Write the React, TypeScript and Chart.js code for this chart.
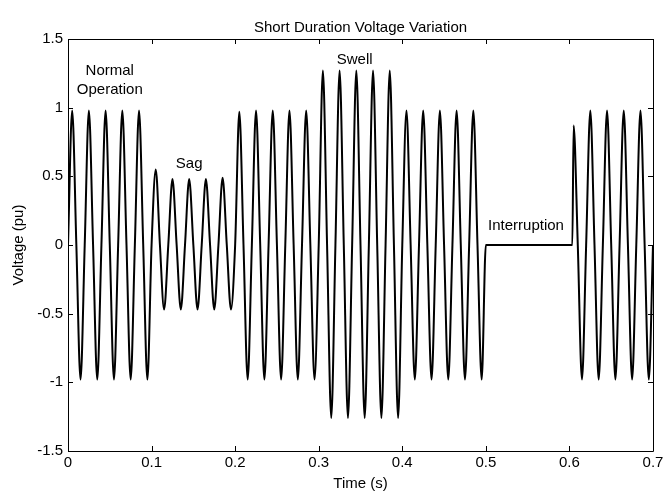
import React, { useEffect, useRef } from "react";
import { Chart, registerables } from "chart.js";

Chart.register(...registerables);

// Half-cycle peak values (pu), 50 Hz => 10 half cycles per 0.1 s
const segmentStarts = [0, 0.1, 0.2, 0.3, 0.4, 0.5, 0.6];
const normalPeaks = [0.98, -0.98, 0.98, -0.98, 0.98, -0.98, 0.98, -0.98, 0.98, -0.98];
const sagPeaks = [0.55, -0.47, 0.48, -0.47, 0.48, -0.47, 0.48, -0.47, 0.49, -0.47];
const recoveryPeaks = [0.97, -0.98, 0.98, -0.98, 0.98, -0.98, 0.98, -0.98, 0.98, -0.98];
const swellPeaks = [1.27, -1.26, 1.27, -1.26, 1.27, -1.26, 1.27, -1.26, 1.27, -1.26];
const postSwellPeaks = [0.98, -0.98, 0.98, -0.98, 0.98, -0.98, 0.98, -0.98, 0.98, -0.98];
const interruptionPeaks = [0, 0, 0, 0, 0, 0, 0, 0, 0, 0];
const restoredPeaks = [0.87, -0.98, 0.98, -0.98, 0.98, -0.98, 0.98, -0.98, 0.98, -0.98];
const halfCycle = 0.01;
const restoreOnset = 0.6035;
const endTime = 0.7;

const xTickValues = [0, 0.1, 0.2, 0.3, 0.4, 0.5, 0.6, 0.7];
const xTickLabels = ["0", "0.1", "0.2", "0.3", "0.4", "0.5", "0.6", "0.7"];
const yTickValues = [-1.5, -1, -0.5, 0, 0.5, 1, 1.5];
const yTickLabels = ["-1.5", "-1", "-0.5", "0", "0.5", "1", "1.5"];

const titleText = "Short Duration Voltage Variation";
const xTitle = "Time (s)";
const yTitle = "Voltage (pu)";
const annotations = [
  { text: "Normal", t: 0.05, v: 1.24 },
  { text: "Operation", t: 0.05, v: 1.1 },
  { text: "Sag", t: 0.145, v: 0.56 },
  { text: "Swell", t: 0.343, v: 1.32 },
  { text: "Interruption", t: 0.548, v: 0.11 },
];

const FONT = '"Liberation Sans", Arial, Helvetica, sans-serif';

function buildPoints() {
  const segs = [normalPeaks, sagPeaks, recoveryPeaks, swellPeaks, postSwellPeaks, interruptionPeaks, restoredPeaks];
  const pts: { x: number; y: number }[] = [];
  segs.forEach((peaks, s) => {
    peaks.forEach((p, i) => {
      const t0 = segmentStarts[s] + i * halfCycle;
      pts.push({ x: t0, y: 0 });
      pts.push({ x: t0 + halfCycle / 2, y: p });
    });
  });
  pts.push({ x: restoreOnset, y: 0 });
  pts.push({ x: endTime, y: 0 });
  pts.sort((a, b) => a.x - b.x);
  return pts;
}

const framePlugin = {
  id: "matlabFrame",
  afterDraw(chart: any) {
    const { ctx, chartArea } = chart;
    const xs = chart.scales.x;
    const ys = chart.scales.y;
    const { left, right, top, bottom } = chartArea;
    ctx.save();
    ctx.strokeStyle = "#000";
    ctx.lineWidth = 1;
    ctx.beginPath();
    ctx.rect(Math.round(left) + 0.5, Math.round(top) + 0.5, Math.round(right - left), Math.round(bottom - top));
    ctx.stroke();
    const tl = 5;
    ctx.beginPath();
    xTickValues.forEach((v) => {
      const px = Math.round(xs.getPixelForValue(v)) + 0.5;
      ctx.moveTo(px, bottom);
      ctx.lineTo(px, bottom - tl);
      ctx.moveTo(px, top);
      ctx.lineTo(px, top + tl);
    });
    yTickValues.forEach((v) => {
      const py = Math.round(ys.getPixelForValue(v)) + 0.5;
      ctx.moveTo(left, py);
      ctx.lineTo(left + tl, py);
      ctx.moveTo(right, py);
      ctx.lineTo(right - tl, py);
    });
    ctx.stroke();

    ctx.fillStyle = "#000";
    ctx.font = `15px ${FONT}`;
    ctx.textAlign = "center";
    ctx.textBaseline = "alphabetic";
    ctx.fillText(titleText, (left + right) / 2, 32);
    ctx.fillText(xTitle, (left + right) / 2, 488);
    annotations.forEach((a) => {
      ctx.fillText(a.text, xs.getPixelForValue(a.t), ys.getPixelForValue(a.v));
    });
    ctx.save();
    ctx.translate(23, (top + bottom) / 2);
    ctx.rotate(-Math.PI / 2);
    ctx.fillText(yTitle, 0, 0);
    ctx.restore();
    ctx.restore();
  },
};

export default function App() {
  const ref = useRef<HTMLCanvasElement | null>(null);
  useEffect(() => {
    if (!ref.current) return;
    const chart = new Chart(ref.current, {
      type: "line",
      data: {
        datasets: [
          {
            data: buildPoints(),
            borderColor: "#000",
            borderWidth: 2,
            pointRadius: 0,
            cubicInterpolationMode: "monotone",
            fill: false,
          },
        ],
      },
      options: {
        responsive: false,
        animation: false,
        devicePixelRatio: 1,
        parsing: false,
        layout: { padding: { left: 0, right: 11, top: 39, bottom: 0 } },
        plugins: { legend: { display: false }, tooltip: { enabled: false }, title: { display: false } },
        scales: {
          x: {
            type: "linear",
            min: 0,
            max: 0.7,
            grid: { display: false, drawTicks: false },
            border: { display: false },
            afterBuildTicks: (s: any) => {
              s.ticks = xTickValues.map((v) => ({ value: v }));
            },
            afterFit: (s: any) => {
              s.height = 40;
              s.paddingLeft = 0;
              s.paddingRight = 0;
            },
            ticks: {
              padding: 3,
              maxRotation: 0,
              autoSkip: false,
              color: "#000",
              font: { family: FONT, size: 15 },
              callback: (_v: any, i: number) => xTickLabels[i],
            },
          },
          y: {
            type: "linear",
            min: -1.5,
            max: 1.5,
            grid: { display: false, drawTicks: false },
            border: { display: false },
            afterBuildTicks: (s: any) => {
              s.ticks = yTickValues.map((v) => ({ value: v }));
            },
            afterFit: (s: any) => {
              s.width = 68;
              s.paddingTop = 0;
              s.paddingBottom = 0;
            },
            ticks: {
              padding: 5,
              autoSkip: false,
              color: "#000",
              font: { family: FONT, size: 15 },
              callback: (_v: any, i: number) => yTickLabels[i],
            },
          },
        },
      },
      plugins: [framePlugin],
    });
    return () => chart.destroy();
  }, []);
  return (
    <div style={{ position: "absolute", left: 0, top: 0, width: 664, height: 491, background: "#fff" }}>
      <canvas ref={ref} width={664} height={491} style={{ display: "block" }} />
    </div>
  );
}
